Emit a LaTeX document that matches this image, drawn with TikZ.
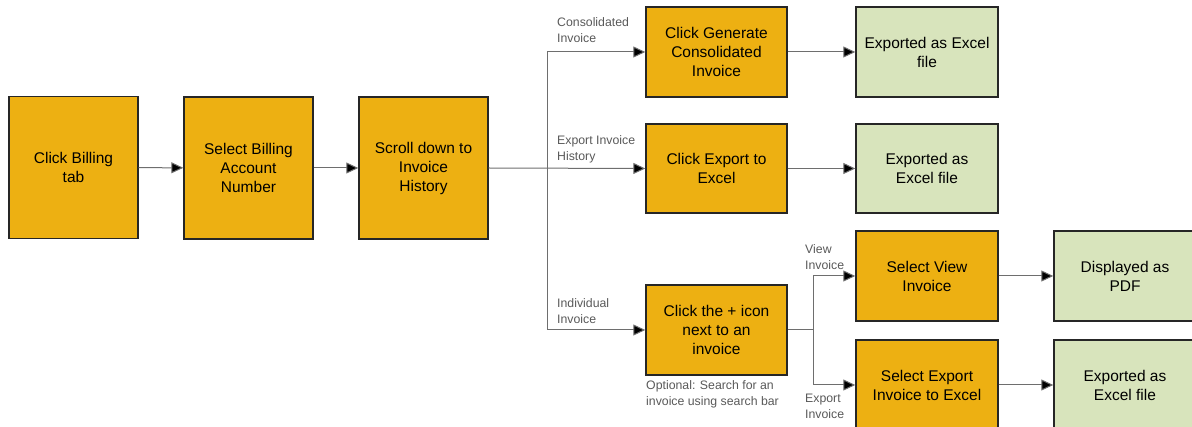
\documentclass[tikz,border=0pt]{standalone}
\usepackage{fontspec}
\setmainfont{Liberation Sans}
\usepackage{xcolor}
\usetikzlibrary{arrows.meta, positioning}

\definecolor{stepfill}{HTML}{EDB012}
\definecolor{donefill}{HTML}{D8E4BC}
\definecolor{linegray}{HTML}{6E6E6E}
\definecolor{labelgray}{HTML}{595959}

\tikzset{
  stepbox/.style={draw=black!85, line width=1.4pt, fill=stepfill, inner sep=0pt,
    minimum width=141pt, minimum height=90pt, align=center,
    font=\fontsize{15.5}{19}\selectfont},
  donebox/.style={stepbox, fill=donefill},
  flow/.style={draw=linegray, line width=1pt, -{Triangle[length=12pt,width=11pt,fill=black]}},
  branch/.style={text=labelgray, inner sep=0pt, anchor=north west, align=left,
    font=\fontsize{12.3}{16}\selectfont}
}

\begin{document}
\begin{tikzpicture}[x=1pt, y=-1pt]
\useasboundingbox (0,0) rectangle (1192,427);

% main row
\node[stepbox, minimum width=129pt, minimum height=142pt] (billing) at (73.5,167.5) {Click Billing\\tab};
\node[stepbox, minimum width=129pt, minimum height=142pt] (account) at (248.5,168) {Select Billing\\Account\\Number};
\node[stepbox, minimum width=129pt, minimum height=142pt] (history) at (423.5,168) {Scroll down to\\Invoice\\History};

% second column
\node[stepbox] (consol) at (716.5,52) {Click Generate\\Consolidated\\Invoice};
\node[stepbox, minimum height=89pt] (export) at (716.5,168.5) {Click Export to\\Excel};
\node[stepbox] (plus) at (716.5,330) {Click the + icon\\next to an\\invoice};

% third column
\node[donebox, minimum width=142pt] (excel1) at (927,52) {Exported as Excel\\file};
\node[donebox, minimum width=142pt, minimum height=89pt] (excel2) at (927,168.5) {Exported as\\Excel file};
\node[stepbox, minimum width=142pt] (view) at (927,276) {Select View\\Invoice};
\node[stepbox, minimum width=142pt] (expinv) at (927,385) {Select Export\\Invoice to Excel};

% fourth column
\node[donebox, minimum width=142pt] (pdf) at (1125,276) {Displayed as\\PDF};
\node[donebox, minimum width=142pt] (excel3) at (1125,385) {Exported as\\Excel file};

\coordinate (split) at (547,168);
\coordinate (split2) at (813,330);

\draw[flow] (billing) -- (account);
\draw[flow] (account) -- (history);
\draw[flow] (history.east) -- (export.west);
\draw[flow] (split) |- (consol.west);
\draw[flow] (split) |- (plus.west);
\draw[flow] (plus.east) -- (split2) |- (view.west);
\draw[flow] (split2) |- (expinv.west);
\draw[flow] (consol) -- (excel1);
\draw[flow] (export) -- (excel2);
\draw[flow] (view) -- (pdf);
\draw[flow] (expinv) -- (excel3);

% branch labels
\node[branch] (lcons) at (557,17) {Consolidated\\Invoice};
\node[branch] (lhist) at (557,135) {Export Invoice\\History};
\node[branch] (lind) at (557,298) {Individual\\Invoice};
\node[branch] (lview) at (805,244) {View\\Invoice};
\node[branch] (lexp) at (805,394) {Export\\Invoice};
\node[branch] (note) at (646,380) {Optional: Search for an\\invoice using search bar};
\end{tikzpicture}
\end{document}
